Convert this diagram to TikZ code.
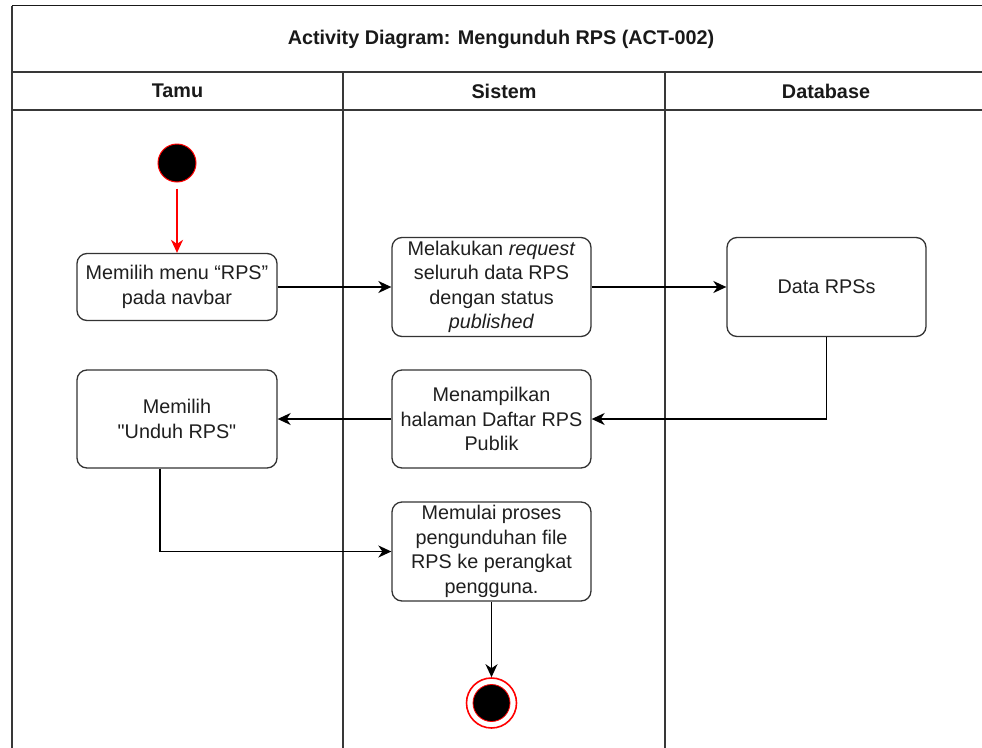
\documentclass[tikz,border=0pt]{standalone}
\usepackage{fontspec}
\setmainfont{Liberation Sans}[Ligatures=TeXOff]
\usetikzlibrary{arrows.meta}
\begin{document}
\begin{tikzpicture}[x=1pt,y=-1pt,
  act/.style={draw=black!80, line width=1.3pt, rounded corners=10pt, fill=white,
    align=center, inner sep=0pt, text=black!88,
    font=\fontsize{19.8}{24.5}\selectfont},
  flow/.style={line width=1.5pt, -{Stealth[length=13pt,width=12pt,inset=4pt]}},
  frameline/.style={line width=1.5pt, draw=black!78},
  hdr/.style={font=\bfseries\fontsize{19.8}{22}\selectfont, text=black!90}]
\useasboundingbox (0,0) rectangle (982,747);
\clip (0,0) rectangle (982,747);

% swimlane frame
\draw[frameline, draw=black!90] (12,5.5) -- (995,5.5);
\draw[frameline] (12,5.5) -- (12,760);
\draw[frameline] (12,72) -- (995,72);
\draw[frameline] (12,110) -- (995,110);
\draw[frameline] (343,72) -- (343,760);
\draw[frameline] (665,72) -- (665,760);

% titles
\node[hdr] (title) at (501,39) {Activity Diagram: Mengunduh RPS (ACT-002)};
\node[hdr] (h1) at (177.5,91) {Tamu};
\node[hdr] (h2) at (504,91) {Sistem};
\node[hdr] (h3) at (826,91) {Database};

% start / end states
\node[circle, fill=black, draw=red, line width=1pt, minimum size=38pt, inner sep=0pt] (start) at (177,163) {};
\node[circle, draw=red, line width=1.6pt, fill=white, minimum size=50pt, inner sep=0pt] (end) at (491.5,703) {};
\node[circle, fill=black, draw=red, line width=0.8pt, minimum size=37pt, inner sep=0pt] (endin) at (end.center) {};

% activities
\node[act, minimum width=200pt, minimum height=67pt] (b1) at (177,287) {Memilih menu “RPS”\\pada navbar};
\node[act, minimum width=199pt, minimum height=99pt] (b2) at (491.5,287) {Melakukan \textit{request}\\seluruh data RPS\\dengan status\\\textit{published}};
\node[act, minimum width=199pt, minimum height=99pt] (b3) at (826.5,287) {Data RPSs};
\node[act, minimum width=200pt, minimum height=98pt] (b4) at (177,419) {Memilih\\"Unduh RPS"};
\node[act, minimum width=199pt, minimum height=98pt] (b5) at (491.5,419) {Menampilkan\\halaman Daftar RPS\\Publik};
\node[act, minimum width=199pt, minimum height=99pt] (b6) at (491.5,551.5) {Memulai proses\\pengunduhan file\\RPS ke perangkat\\pengguna.};

% control flow
\draw[flow, red, shorten <=6pt] (start.south) -- (b1.north);
\draw[flow] (b1.east) -- (b2.west);
\draw[flow] (b2.east) -- (b3.west);
\draw[flow] (b3.south) |- (b5.east);
\draw[flow] (b5.west) -- (b4.east);
\draw[flow] ([xshift=-17pt]b4.south) |- (b6.west);
\draw[flow] (b6.south) -- (end.north);
\end{tikzpicture}
\end{document}
